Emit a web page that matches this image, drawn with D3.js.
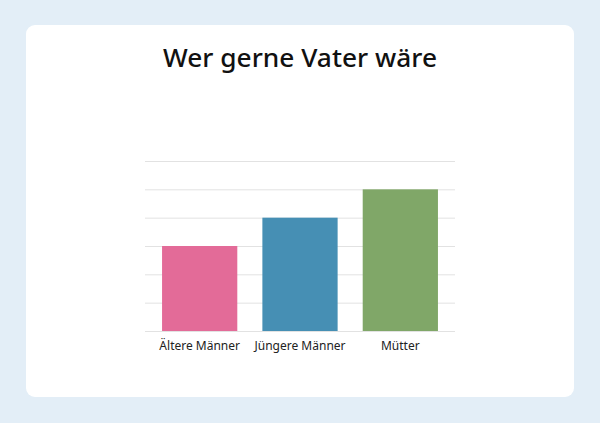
<!DOCTYPE html>
<html>
<head>
<meta charset="utf-8">
<script src="https://cdn.jsdelivr.net/npm/d3@7"></script>
<style>
  html, body { margin: 0; padding: 0; background: #e3eef7; }
  svg { display: block; }
</style>
</head>
<body>
<svg id="chart" width="600" height="423"></svg>
<script>
const title = "Wer gerne Vater wäre";
const categories = ["Ältere Männer", "Jüngere Männer", "Mütter"];
const values = [3, 4, 5];
const colors = ["#e36b98", "#468fb4", "#80a768"];
const yTicks = [0, 1, 2, 3, 4, 5, 6];

(function () {
const svg = d3.select("#chart");
svg.append("rect").attr("x", 0).attr("y", 0).attr("width", 600).attr("height", 423).attr("fill", "#e3eef7");
svg.append("rect").attr("x", 26).attr("y", 25).attr("width", 548).attr("height", 372)
  .attr("rx", 9).attr("fill", "#ffffff");

svg.append("text").attr("x", 300).attr("y", 67).attr("text-anchor", "middle")
  .attr("font-family", "'Noto Sans', Lato, sans-serif").attr("font-weight", 500)
  .attr("font-size", 25).attr("fill", "#111")
  .attr("textLength", 274).attr("lengthAdjust", "spacingAndGlyphs")
  .text(title);

const pLeft = 145, pRight = 455, pTop = 161, pBottom = 331;
const x = d3.scaleBand().domain(categories).range([pLeft, pRight]).paddingInner(0.25).paddingOuter(0.17);
const y = d3.scaleLinear().domain([0, 6]).range([pBottom, pTop]);

const yAxis = d3.axisLeft(y).tickValues(yTicks).tickSize(-(pRight - pLeft)).tickFormat("");
const gy = svg.append("g").attr("transform", `translate(${pLeft},0)`).call(yAxis);
gy.select(".domain").remove();
gy.selectAll(".tick line").attr("stroke", "#e2e2e2").attr("stroke-width", 1);

svg.append("g").selectAll("rect").data(values).join("rect")
  .attr("x", (d, i) => x(categories[i]))
  .attr("y", d => y(d))
  .attr("width", x.bandwidth())
  .attr("height", d => y(0) - y(d))
  .attr("fill", (d, i) => colors[i]);

const xAxis = d3.axisBottom(x).tickSize(0).tickPadding(10);
const gx = svg.append("g").attr("transform", `translate(0,${pBottom})`).call(xAxis);
gx.select(".domain").remove();
gx.selectAll(".tick text").attr("font-family", "'Noto Sans', Lato, sans-serif")
  .attr("font-size", 12).attr("fill", "#222");
})();
</script>
</body>
</html>
